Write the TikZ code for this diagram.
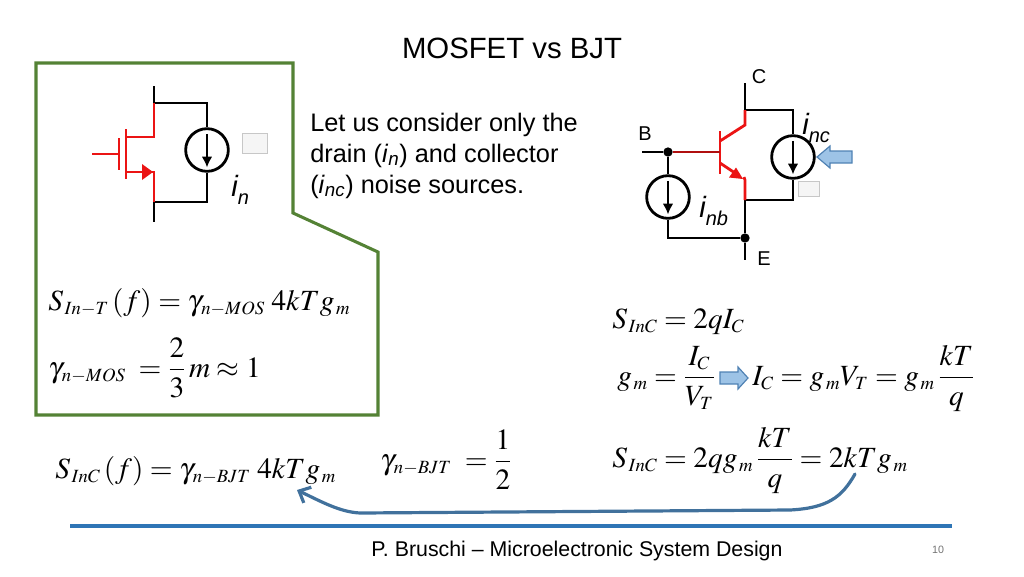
\documentclass[tikz,border=0pt]{standalone}
\usepackage{mathptmx}
\usepackage{fontspec}
\setmainfont{Liberation Sans}
\usetikzlibrary{arrows.meta}
\DeclareMathSizes{22}{22}{14}{10}
\definecolor{boxgreen}{RGB}{84,130,53}
\definecolor{barblue}{RGB}{46,117,182}
\definecolor{curveblue}{RGB}{65,113,156}
\definecolor{arrfill}{RGB}{157,195,230}
\definecolor{arredge}{RGB}{80,130,180}
\definecolor{devred}{RGB}{235,20,20}
\newcommand{\sk}{\kern1.2pt}
\begin{document}
\begin{tikzpicture}[x=0.75pt,y=-0.75pt,
  wire/.style={line width=2.1pt, line join=miter},
  redwire/.style={wire, draw=devred},
  src/.style={circle, draw, line width=2.1pt, minimum size=32pt, inner sep=0pt},
  dot/.style={circle, fill=black, minimum size=7pt, inner sep=0pt},
  graybox/.style={draw=black!22, fill=black!4, line width=0.6pt, inner sep=0pt},
  eq/.style={anchor=base west, inner sep=0pt, font=\fontsize{22}{26}\selectfont},
  txt/.style={anchor=base west, inner sep=0pt, font=\fontsize{19}{23}\selectfont},
  lbl/.style={inner sep=0pt, font=\fontsize{15}{17}\selectfont},
  ilbl/.style={anchor=base west, inner sep=0pt, font=\fontsize{22}{26}\selectfont\itshape},
  hollowarr/.style={draw=arredge, fill=arrfill, line width=0.9pt, line join=miter},
  srcarrow/.style={line width=1.8pt, -{Latex[length=8pt,width=8pt]}}
]
\useasboundingbox (0,0) rectangle (1024,576);

% title
\node[anchor=base, inner sep=0pt, font=\fontsize{22}{26}\selectfont] (title) at (512,58) {MOSFET vs BJT};

% green box
\draw[boxgreen, line width=2.3pt, line join=miter]
  (36,63) -- (293,63) -- (293,213) -- (378,252) -- (378,415) -- (36,415) -- cycle;

% ---------- MOSFET ----------
\coordinate (mDt) at (154,86);
\coordinate (mD) at (154,103);
\coordinate (mDr) at (207,103);
\coordinate (mSr) at (207,202);
\coordinate (mS) at (154,202);
\coordinate (mSb) at (154,222);
\coordinate (mDch) at (154,137);
\coordinate (mSch) at (154,172);
\node[src] (csM) at (207,150) {};
\draw[wire] (mDt) -- (mD) -- (mDr) -- (csM.north);
\draw[wire] (csM.south) -- (mSr) -- (mS) -- (mSb);
\draw[redwire] (mD) -- (mDch) -- (126,137);
\draw[redwire] (126,129) -- (126,179);
\draw[redwire] (119,138) -- (119,170);
\draw[redwire] (92,154) -- (119,154);
\draw[redwire] (126,172) -- (mSch) -- (mS);
\fill[devred] (153,172) -- (142,164) -- (142,180) -- cycle;
\draw[srcarrow] ([yshift=-5pt]csM.north) -- ([yshift=4pt]csM.south);
\node[graybox, minimum width=19pt, minimum height=15pt] (gsM) at (255,143) {};
\node[ilbl] (inM) at (231,196) {i\raisebox{-0.3em}{\fontsize{15}{17}\selectfont n}};

% ---------- text ----------
\node[txt] (t1) at (310,131) {Let us consider only the};
\node[txt] (t2) at (310,162) {drain (\textit{i}\textsubscript{\textit{n}}) and collector};
\node[txt] (t3) at (310,193) {(\textit{i}\textsubscript{\textit{nc}}) noise sources.};

% ---------- BJT ----------
\coordinate (bCt) at (745,83);
\coordinate (bC) at (745,110);
\coordinate (bCr) at (793,110);
\coordinate (bEr) at (793,200);
\coordinate (bE) at (745,200);
\coordinate (bEb) at (745,260);
\coordinate (bBl) at (642,152);
\coordinate (bCk) at (745,125);
\coordinate (bEk) at (745,180);
\coordinate (bNb) at (668,238);
\node[dot] (jB) at (668,152) {};
\node[dot] (jE) at (745,238) {};
\node[src] (csC) at (793,157) {};
\node[src] (csB) at (668,197) {};
\draw[wire] (bCt) -- (bC) -- (bCr) -- (csC.north);
\draw[wire] (csC.south) -- (bEr) -- (bE) -- (jE) -- (bEb);
\draw[wire] (bBl) -- (jB) -- (csB.north);
\draw[wire] (csB.south) -- (bNb) -- (jE);
\draw[redwire] (bC) -- (bCk) -- (720,141);
\draw[redwire] (720,131) -- (720,174);
\draw[draw=devred!75!black, line width=2.1pt] (jB) -- (720,152);
\draw[redwire] (720,163) -- (738,175);
\fill[devred] (743,179) -- (729,177.5) -- (736,167.5) -- cycle;
\draw[redwire] (744,177) -- (bEk) -- (bE);
\draw[srcarrow] ([yshift=-5pt]csC.north) -- ([yshift=4pt]csC.south);
\draw[srcarrow] ([yshift=-5pt]csB.north) -- ([yshift=4pt]csB.south);
\node[lbl] (lC) at (759,77) {C};
\node[lbl] (lB) at (645,134) {B};
\node[lbl] (lE) at (764,259) {E};
\node[ilbl] (inc) at (802,134) {i\raisebox{-0.3em}{\fontsize{15}{17}\selectfont nc}};
\node[ilbl] (inb) at (699,217) {i\raisebox{-0.3em}{\fontsize{15}{17}\selectfont nb}};
\draw[hollowarr] (852,151) -- (830,151) -- (830,146) -- (817,157) -- (830,168) -- (830,163) -- (852,163) -- cycle;
\node[graybox, minimum width=16pt, minimum height=11pt] (gsB) at (809,189) {};

% ---------- equations ----------
\node[eq] (e1) at (48,310) {$S_{\sk In-T}\,(f)=\gamma_{\sk n-MOS}\;4kTg_{\sk m}$};
\node[eq] (e2) at (48,377) {$\gamma_{\sk n-MOS}\;=\displaystyle\frac{2}{3}\,m\approx 1$};
\node[eq] (e3) at (55,478) {$S_{\sk InC}\,(f)=\gamma_{\sk n-BJT}\;4kTg_{\sk m}$};
\node[eq] (e4) at (380,469) {$\gamma_{\sk n-BJT}\;=\displaystyle\frac{1}{2}$};
\node[eq] (r1) at (612,328) {$S_{\sk InC}=2qI_{C}$};
\node[eq] (r2a) at (617,385) {$g_{\sk m}=\displaystyle\frac{I_C}{V_T}$};
\draw[hollowarr] (720,372) -- (738,372) -- (738,367) -- (748,378) -- (738,389) -- (738,384) -- (720,384) -- cycle;
\node[eq] (r2b) at (752,385) {$I_C=g_{\sk m}V_T=g_{\sk m}\,\displaystyle\frac{kT}{q}$};
\node[eq] (r3) at (612,467) {$S_{\sk InC}=2qg_{\sk m}\,\displaystyle\frac{kT}{q}=2kTg_{\sk m}$};

% curved arrow
\coordinate (cs) at (855,474);
\coordinate (ce) at (297,490);
\draw[curveblue, line width=2.4pt, line cap=round, -{Straight Barb[length=7pt,width=13pt]}]
  (cs) .. controls (842,497) and (828,508) .. (790,510)
  -- (360,513) .. controls (340,512) and (322,502) .. (ce);

% footer
\draw[barblue, line width=2.4pt] (70,526) -- (952,526);
\node[anchor=base, inner sep=0pt, font=\fontsize{16}{18}\selectfont] (foot) at (577,556) {P. Bruschi -- Microelectronic System Design};
\node[anchor=base, inner sep=0pt, text=black!55, font=\fontsize{8}{9}\selectfont] (pg) at (938,553) {10};
\end{tikzpicture}
\end{document}
